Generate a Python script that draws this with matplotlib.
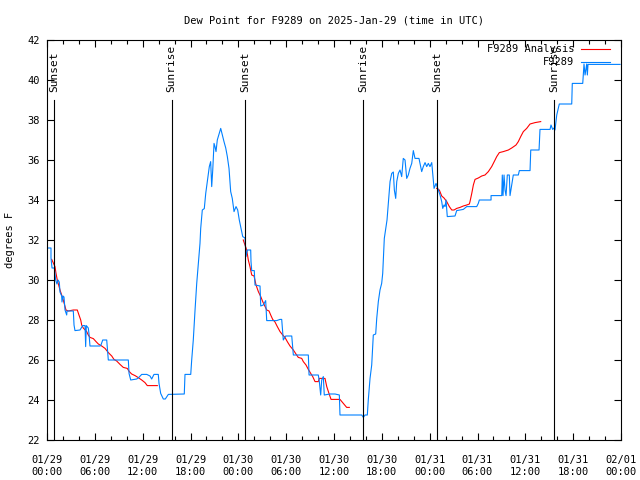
import numpy as np
import pandas as pd
import matplotlib
matplotlib.use("Agg")
import matplotlib.pyplot as plt
import matplotlib.dates as mdates

plt.rcParams['font.family'] = ['DejaVu Sans Mono']
plt.rcParams['font.size'] = 7.5

base = pd.Timestamp("2025-01-29 00:00")

# observed dew point (hours since 01/29 00:00 UTC, deg F)
obs_hours = [0.16, 0.50, 0.50, 0.63, 0.92, 1.09, 1.25, 1.38, 1.54, 1.63, 1.84, 1.88, 2.01, 2.13,
             2.26, 2.47, 2.51, 3.30, 3.39, 3.51, 4.14, 4.48, 4.77, 4.85, 4.93, 5.18, 5.27, 5.39,
             6.65, 6.77, 6.99, 7.49, 7.69, 10.20, 10.29, 10.50, 11.25, 11.45, 11.88, 12.51, 12.92,
             13.13, 13.42, 13.96, 14.05, 14.26, 14.59, 14.84, 15.22, 17.22, 17.31, 18.03, 18.15,
             18.35, 18.57, 18.78, 18.98, 19.19, 19.28, 19.48, 19.73, 19.91, 20.11, 20.36, 20.53,
             20.66, 20.79, 20.95, 21.07, 21.20, 21.36, 21.61, 21.79, 21.99, 22.20, 22.42, 22.62,
             22.83, 23.04, 23.24, 23.46, 23.71, 23.92, 24.12, 24.34, 24.55, 24.84, 24.96, 25.13,
             25.55, 25.59, 25.68, 26.00, 26.09, 26.72, 26.81, 27.13, 27.43, 27.56, 28.81, 29.23,
             29.44, 29.64, 29.94, 30.70, 30.90, 32.78, 32.87, 34.03, 34.16, 34.33, 34.46, 34.66,
             34.78, 35.50, 36.13, 36.67, 36.75, 39.48, 39.68, 39.89, 40.18, 40.30, 40.52, 40.73,
             40.93, 41.23, 41.36, 41.56, 41.77, 41.98, 42.11, 42.31, 42.49, 42.65, 42.81, 43.03,
             43.24, 43.44, 43.57, 43.74, 43.87, 44.07, 44.28, 44.49, 44.69, 44.91, 45.12, 45.32,
             45.53, 45.75, 45.95, 46.16, 46.66, 46.79, 47.00, 47.20, 47.42, 47.63, 47.83, 48.04,
             48.26, 48.46, 48.55, 48.80, 49.01, 49.30, 49.51, 49.64, 49.80, 49.93, 50.05, 50.21,
             51.18, 51.39, 52.22, 52.65, 53.90, 54.10, 54.23, 55.70, 55.70, 57.04, 57.11, 57.20,
             57.33, 57.45, 57.58, 57.74, 57.99, 58.08, 58.29, 58.49, 59.12, 59.25, 60.59, 60.68,
             61.72, 61.84, 63.10, 63.22, 63.43, 63.60, 63.72, 63.94, 64.14, 64.26, 65.82, 65.89,
             67.20, 67.27, 67.36, 67.49, 67.70, 67.78, 67.86, 71.88]
obs_dewpt = [31.6, 31.6, 31.1, 30.6, 30.6, 30.0, 29.8, 30.0, 29.9, 29.4, 29.2, 28.9, 29.2, 29.15,
             28.5, 28.25, 28.45, 28.45, 27.75, 27.47, 27.5, 27.72, 27.72, 26.67, 27.72, 27.6, 27.3,
             26.7, 26.7, 26.75, 27.0, 27.0, 26.0, 26.0, 25.33, 25.0, 25.05, 25.1, 25.28, 25.28,
             25.2, 25.05, 25.28, 25.28, 24.83, 24.33, 24.05, 24.05, 24.28, 24.3, 25.28, 25.28,
             26.0, 27.0, 28.5, 29.83, 30.83, 31.83, 32.58, 33.5, 33.57, 34.33, 34.92, 35.67, 35.92,
             34.67, 35.5, 36.83, 36.67, 36.42, 37.0, 37.33, 37.58, 37.25, 36.92, 36.6, 36.17, 35.58,
             34.42, 34.08, 33.42, 33.67, 33.5, 33.0, 32.58, 32.17, 32.1, 31.17, 31.5, 31.5, 30.92,
             30.47, 30.47, 29.75, 29.7, 28.7, 28.75, 28.97, 27.97, 27.97, 28.03, 28.03, 27.0, 27.2,
             27.2, 26.25, 26.25, 25.25, 25.25, 24.92, 24.25, 25.0, 25.17, 24.25, 24.3, 24.3, 24.25,
             23.25, 23.25, 23.13, 23.25, 23.25, 24.0, 25.08, 25.75, 27.25, 27.3, 28.08, 28.92, 29.5,
             29.83, 30.33, 32.08, 32.58, 33.0, 33.83, 34.92, 35.33, 35.4, 34.5, 34.08, 34.92, 35.33,
             35.5, 35.17, 36.08, 36.0, 35.08, 35.25, 35.58, 35.83, 36.47, 36.08, 36.08, 35.83,
             35.42, 35.67, 35.87, 35.67, 35.83, 35.67, 35.87, 35.0, 34.58, 34.83, 34.58, 34.25,
             33.92, 33.58, 33.75, 33.67, 34.0, 33.17, 33.2, 33.47, 33.53, 33.67, 33.67, 33.83, 34.0,
             34.0, 34.22, 34.22, 35.25, 34.22, 35.25, 34.5, 34.22, 35.25, 35.25, 34.22, 34.75,
             35.25, 35.25, 35.47, 35.47, 36.5, 36.5, 37.53, 37.53, 37.75, 37.53, 37.6, 37.5, 38.25,
             38.58, 38.8, 38.8, 39.83, 39.83, 40.25, 40.8, 40.25, 40.8, 40.25, 40.78, 40.78]

# analysis dew point, night segments separated by NaN
ana_hours = [0.59, 1.00, 1.13, 1.29, 1.63, 1.84, 2.04, 2.38, 2.67, 3.30, 3.80, 4.01, 4.23, 4.35,
             4.55, 4.98, 5.18, 5.39, 5.81, 6.15, 6.44, 6.86, 7.28, 7.69, 8.12, 8.40, 8.74, 9.16,
             9.57, 10.07, 10.32, 10.62, 11.04, 11.45, 11.88, 12.29, 12.58, 13.84, 13.9,
             24.62, 25.05, 25.25, 25.46, 25.68, 25.97, 26.22, 26.51, 26.81, 27.06, 27.26, 27.56,
             27.85, 28.06, 28.31, 28.60, 28.89, 29.23, 29.57, 29.85, 30.14, 30.48, 30.90, 31.23,
             31.52, 31.95, 32.15, 32.49, 32.78, 33.08, 33.33, 33.62, 34.03, 34.16, 34.87, 35.09,
             35.37, 35.63, 36.75, 37.17, 37.59, 37.92, 38.0,
             48.88, 49.21, 49.51, 49.80, 50.14, 50.47, 50.77, 51.06, 51.39, 51.81, 52.22, 52.65,
             52.98, 53.06, 53.28, 53.48, 53.69, 54.10, 54.53, 54.94, 55.36, 55.78, 56.20, 56.41,
             56.74, 57.24, 57.87, 58.29, 58.83, 59.12, 59.42, 59.75, 60.17, 60.59, 61.22, 61.93]
ana_dewpt = [31.03, 30.67, 30.33, 30.0, 29.5, 29.25, 29.0, 28.5, 28.45, 28.5, 28.5, 28.25, 28.0,
             27.75, 27.6, 27.42, 27.25, 27.13, 27.07, 26.92, 26.8, 26.7, 26.58, 26.37, 26.2, 26.03,
             25.95, 25.78, 25.63, 25.58, 25.42, 25.3, 25.22, 25.12, 25.0, 24.87, 24.72, 24.72, np.nan,
             32.0, 31.5, 31.0, 30.67, 30.25, 30.2, 29.75, 29.42, 29.17, 28.92, 28.75, 28.5, 28.45,
             28.25, 28.03, 27.9, 27.67, 27.42, 27.25, 27.13, 26.92, 26.7, 26.5, 26.3, 26.13, 26.08,
             25.92, 25.75, 25.53, 25.33, 25.17, 24.92, 24.92, 25.08, 25.08, 24.67, 24.33, 24.03,
             24.03, 23.83, 23.63, 23.63, np.nan,
             34.58, 34.5, 34.2, 34.1, 33.92, 33.67, 33.5, 33.5, 33.58, 33.63, 33.7, 33.75, 33.8,
             33.92, 34.33, 34.75, 35.03, 35.1, 35.2, 35.25, 35.42, 35.67, 36.0, 36.17, 36.37,
             36.42, 36.5, 36.6, 36.75, 36.92, 37.17, 37.42, 37.58, 37.8, 37.87, 37.92]

sun_hours = [0.92, 15.64, 24.88, 39.68, 48.96, 63.64]
sun_labels = ["Sunset", "Sunrise", "Sunset", "Sunrise", "Sunset", "Sunrise"]

obs_t = base + pd.to_timedelta(obs_hours, unit="h")
ana_t = base + pd.to_timedelta(ana_hours, unit="h")
sun_t = base + pd.to_timedelta(sun_hours, unit="h")

fig = plt.figure(figsize=(6.4, 4.8), dpi=100)
ax = fig.add_axes([47/640, 40/480, 574/640, 400/480])

ax.plot(ana_t, ana_dewpt, color='#ff0000', lw=0.8, label='F9289 Analysis')
ax.plot(obs_t, obs_dewpt, color='#0080ff', lw=0.8, label='F9289')

for t, lab in zip(sun_t, sun_labels):
    ax.plot([t, t], [22, 39], color='black', lw=0.8)
    ax.text(t, 39.4, lab, rotation=90, ha='center', va='bottom', fontsize=8)

ax.set_xlim(base, base + pd.Timedelta(hours=72))
ax.set_ylim(22, 42)
ax.set_yticks(np.arange(22, 43, 2))
ax.xaxis.set_major_locator(mdates.HourLocator(byhour=[0, 6, 12, 18]))
ax.xaxis.set_minor_locator(mdates.HourLocator(interval=2))
ax.xaxis.set_major_formatter(mdates.DateFormatter('%m/%d\n%H:%M'))
ax.tick_params(which='both', direction='in', top=True, right=True, width=0.8)
ax.tick_params(which='major', length=5)
ax.tick_params(which='minor', length=2.8)
ax.tick_params(axis='x', pad=11)
ax.tick_params(axis='y', pad=5)
for s in ax.spines.values():
    s.set_linewidth(0.8)

ax.set_ylabel('degrees F', labelpad=9)
ax.set_title('Dew Point for F9289 on 2025-Jan-29 (time in UTC)', fontsize=7.5, pad=12)
ax.legend(loc='upper right', bbox_to_anchor=(1.0, 1.018), frameon=False, markerfirst=False,
          handlelength=2.7, handletextpad=0.7, borderaxespad=0.7, labelspacing=0.3)

fig.savefig('out.png', dpi=100)
